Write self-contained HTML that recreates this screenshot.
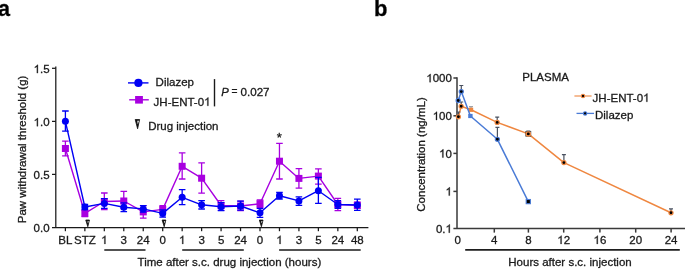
<!DOCTYPE html>
<html><head><meta charset="utf-8"><style>
html,body{margin:0;padding:0;background:#fff;}
svg{display:block;font-family:"Liberation Sans", sans-serif;will-change:transform;}
text{stroke:#1a1a1a;stroke-width:0.3px;}
.o{fill:none;stroke:none;}
</style></head><body>
<svg width="685" height="269" viewBox="0 0 685 269">
<rect width="685" height="269" fill="#fff"/>
<text x="-2.1" y="15.6" font-size="21.6" font-weight="bold">a</text>
<text x="373.9" y="15.6" font-size="22" font-weight="bold">b</text>
<g stroke="#1a1a1a" stroke-width="1.25" fill="none">
<path d="M55.8 66.5V227.5M52 227.5H368.4"/>
<path d="M52 68.3H55.8"/>
<path d="M52 121.4H55.8"/>
<path d="M52 174.4H55.8"/>
<path d="M65.40 227.5V231.2"/>
<path d="M84.86 227.5V231.2"/>
<path d="M104.32 227.5V231.2"/>
<path d="M123.78 227.5V231.2"/>
<path d="M143.24 227.5V231.2"/>
<path d="M162.70 227.5V231.2"/>
<path d="M182.16 227.5V231.2"/>
<path d="M201.62 227.5V231.2"/>
<path d="M221.08 227.5V231.2"/>
<path d="M240.54 227.5V231.2"/>
<path d="M260.00 227.5V231.2"/>
<path d="M279.46 227.5V231.2"/>
<path d="M298.92 227.5V231.2"/>
<path d="M318.38 227.5V231.2"/>
<path d="M337.84 227.5V231.2"/>
<path d="M357.30 227.5V231.2"/>
</g>
<g font-size="11.5" fill="#1a1a1a" text-anchor="end">
<text x="49.6" y="73.1"><tspan class="o">1</tspan>.5</text>
<text x="49.6" y="126.2"><tspan class="o">1</tspan>.0</text>
<text x="49.6" y="179.3">0.5</text>
<text x="49.6" y="232.4">0.0</text>
</g>
<g font-size="11.5" fill="#1a1a1a" text-anchor="middle">
<text x="65.40" y="243.9">BL</text>
<text x="84.86" y="243.9">STZ</text>
<text x="104.32" y="243.9"><tspan class="o">1</tspan></text>
<text x="123.78" y="243.9">3</text>
<text x="143.24" y="243.9">24</text>
<text x="162.70" y="243.9">0</text>
<text x="182.16" y="243.9"><tspan class="o">1</tspan></text>
<text x="201.62" y="243.9">3</text>
<text x="221.08" y="243.9">5</text>
<text x="240.54" y="243.9">24</text>
<text x="260.00" y="243.9">0</text>
<text x="279.46" y="243.9"><tspan class="o">1</tspan></text>
<text x="298.92" y="243.9">3</text>
<text x="318.38" y="243.9">5</text>
<text x="337.84" y="243.9">24</text>
<text x="357.30" y="243.9">48</text>
<text x="229.4" y="266.4">Time after s.c. drug injection (hours)</text>
<text transform="translate(25.6 149.4) rotate(-90)">Paw withdrawal threshold (g)</text>
</g>
<g stroke="#1a1a1a" stroke-width="1.5"><path d="M104.3 250H145.5M182.2 250H243.8M279.1 250H360.7"/></g>
<path d="M85.75 220.00H89.45L87.80 226.70Z" fill="#111" stroke="#111" stroke-width="0.8" stroke-linejoin="round"/><path d="M87.50 221.20H88.90L87.90 223.35Z" fill="#fff"/>
<path d="M162.15 220.00H165.85L164.20 226.70Z" fill="#111" stroke="#111" stroke-width="0.8" stroke-linejoin="round"/><path d="M163.90 221.20H165.30L164.30 223.35Z" fill="#fff"/>
<path d="M259.35 220.00H263.05L261.40 226.70Z" fill="#111" stroke="#111" stroke-width="0.8" stroke-linejoin="round"/><path d="M261.10 221.20H262.50L261.50 223.35Z" fill="#fff"/>
<polyline points="65.40,148.5 84.86,213.3 104.32,201.5 123.78,201 143.24,211.9 162.70,209.4 182.16,166.3 201.62,178.2 221.08,205.5 240.54,206 260.00,203.8 279.46,161.2 298.92,178.4 318.38,176.1 337.84,204.5 357.30,205.3" fill="none" stroke="#a800e0" stroke-width="1.4" stroke-linejoin="round"/>
<g stroke="#a800e0" stroke-width="1.3" fill="none">
<path d="M65.40 141.2V155.9M62.10 141.2H68.70M62.10 155.9H68.70"/>
<path d="M84.86 210V216.6M81.56 210H88.16M81.56 216.6H88.16"/>
<path d="M104.32 193V209.7M101.02 193H107.62M101.02 209.7H107.62"/>
<path d="M123.78 191.3V208.7M120.48 191.3H127.08M120.48 208.7H127.08"/>
<path d="M143.24 205.6V218.2M139.94 205.6H146.54M139.94 218.2H146.54"/>
<path d="M162.70 205.6V213.2M159.40 205.6H166.00M159.40 213.2H166.00"/>
<path d="M182.16 152.8V179M178.86 152.8H185.46M178.86 179H185.46"/>
<path d="M201.62 162.8V193.2M198.32 162.8H204.92M198.32 193.2H204.92"/>
<path d="M221.08 200.6V210.4M217.78 200.6H224.38M217.78 210.4H224.38"/>
<path d="M240.54 201.2V210.6M237.24 201.2H243.84M237.24 210.6H243.84"/>
<path d="M260.00 200.0V207.6M256.70 200.0H263.30M256.70 207.6H263.30"/>
<path d="M279.46 143.3V179M276.16 143.3H282.76M276.16 179H282.76"/>
<path d="M298.92 168.6V188.2M295.62 168.6H302.22M295.62 188.2H302.22"/>
<path d="M318.38 168.8V184.2M315.08 168.8H321.68M315.08 184.2H321.68"/>
<path d="M337.84 198.4V210.6M334.54 198.4H341.14M334.54 210.6H341.14"/>
<path d="M357.30 202.2V208.4M354.00 202.2H360.60M354.00 208.4H360.60"/>
</g>
<g fill="#a800e0">
<rect x="61.90" y="145.00" width="7" height="7"/>
<rect x="81.36" y="209.80" width="7" height="7"/>
<rect x="100.82" y="198.00" width="7" height="7"/>
<rect x="120.28" y="197.50" width="7" height="7"/>
<rect x="139.74" y="208.40" width="7" height="7"/>
<rect x="159.20" y="205.90" width="7" height="7"/>
<rect x="178.66" y="162.80" width="7" height="7"/>
<rect x="198.12" y="174.70" width="7" height="7"/>
<rect x="217.58" y="202.00" width="7" height="7"/>
<rect x="237.04" y="202.50" width="7" height="7"/>
<rect x="256.50" y="200.30" width="7" height="7"/>
<rect x="275.96" y="157.70" width="7" height="7"/>
<rect x="295.42" y="174.90" width="7" height="7"/>
<rect x="314.88" y="172.60" width="7" height="7"/>
<rect x="334.34" y="201.00" width="7" height="7"/>
<rect x="353.80" y="201.80" width="7" height="7"/>
</g>
<polyline points="65.40,121.3 84.86,207 104.32,203.4 123.78,207.2 143.24,208.9 162.70,213.4 182.16,197.3 201.62,204.8 221.08,206.7 240.54,206 260.00,212.8 279.46,195.8 298.92,200.9 318.38,190.7 337.84,204.5 357.30,205" fill="none" stroke="#0000f4" stroke-width="1.4" stroke-linejoin="round"/>
<g stroke="#0000f4" stroke-width="1.3" fill="none">
<path d="M65.40 111V131.1M62.10 111H68.70M62.10 131.1H68.70"/>
<path d="M84.86 204.5V209.5M81.56 204.5H88.16M81.56 209.5H88.16"/>
<path d="M104.32 198.6V208.4M101.02 198.6H107.62M101.02 208.4H107.62"/>
<path d="M123.78 202.8V211.6M120.48 202.8H127.08M120.48 211.6H127.08"/>
<path d="M143.24 205.6V212.2M139.94 205.6H146.54M139.94 212.2H146.54"/>
<path d="M162.70 209.8V217.1M159.40 209.8H166.00M159.40 217.1H166.00"/>
<path d="M182.16 189.7V204.7M178.86 189.7H185.46M178.86 204.7H185.46"/>
<path d="M201.62 200.6V209M198.32 200.6H204.92M198.32 209H204.92"/>
<path d="M221.08 202.7V210.6M217.78 202.7H224.38M217.78 210.6H224.38"/>
<path d="M240.54 201.2V210.1M237.24 201.2H243.84M237.24 210.1H243.84"/>
<path d="M260.00 208.3V217.3M256.70 208.3H263.30M256.70 217.3H263.30"/>
<path d="M279.46 192.5V199M276.16 192.5H282.76M276.16 199H282.76"/>
<path d="M298.92 196.8V205.4M295.62 196.8H302.22M295.62 205.4H302.22"/>
<path d="M318.38 177.4V203.4M315.08 177.4H321.68M315.08 203.4H321.68"/>
<path d="M337.84 200.6V208.4M334.54 200.6H341.14M334.54 208.4H341.14"/>
<path d="M357.30 199.1V210.3M354.00 199.1H360.60M354.00 210.3H360.60"/>
</g>
<g fill="#0000f4">
<circle cx="65.40" cy="121.3" r="3.5"/>
<circle cx="84.86" cy="207" r="3.5"/>
<circle cx="104.32" cy="203.4" r="3.5"/>
<circle cx="123.78" cy="207.2" r="3.5"/>
<circle cx="143.24" cy="208.9" r="3.5"/>
<circle cx="162.70" cy="213.4" r="3.5"/>
<circle cx="182.16" cy="197.3" r="3.5"/>
<circle cx="201.62" cy="204.8" r="3.5"/>
<circle cx="221.08" cy="206.7" r="3.5"/>
<circle cx="240.54" cy="206" r="3.5"/>
<circle cx="260.00" cy="212.8" r="3.5"/>
<circle cx="279.46" cy="195.8" r="3.5"/>
<circle cx="298.92" cy="200.9" r="3.5"/>
<circle cx="318.38" cy="190.7" r="3.5"/>
<circle cx="337.84" cy="204.5" r="3.5"/>
<circle cx="357.30" cy="205" r="3.5"/>
</g>
<text x="279.4" y="142.0" font-size="13" text-anchor="middle" fill="#111">*</text>
<path d="M128 82.9H148.5" stroke="#0000f4" stroke-width="1.4"/><circle cx="138.4" cy="82.9" r="4.1" fill="#0000f4"/>
<path d="M129.2 99.8H148.8" stroke="#a800e0" stroke-width="1.4"/><rect x="135.1" y="96" width="7.8" height="7.6" fill="#a800e0"/>
<g font-size="11.5" fill="#1a1a1a"><text x="155.6" y="86.3">Dilazep</text><text x="153.6" y="105.8">JH-ENT-0<tspan class="o">1</tspan></text>
<text x="221.2" y="95.7" font-size="11.3"><tspan font-style="italic">P</tspan><tspan dx="-0.2" dy="-0.4" font-size="10.2"> =</tspan><tspan dx="0" dy="0.4" font-size="11.6"> 0.027</tspan></text>
<text x="148.2" y="130.1">Drug injection</text></g>
<path d="M214.5 79.1V106.4" stroke="#1a1a1a" stroke-width="1.4"/>
<path d="M135.20 119.50H139.60L137.60 128.80Z" fill="#111" stroke="#111" stroke-width="0.8" stroke-linejoin="round"/><path d="M137.30 120.70H139.05L137.70 124.15Z" fill="#fff"/>
<g stroke="#3a3a3a" stroke-width="1.5" fill="none">
<path d="M457 77.2V228.5M453.4 228.5H685"/>
<path d="M453.4 78H457"/>
<path d="M453.4 115.8H457"/>
<path d="M453.4 153.4H457"/>
<path d="M453.4 191.4H457"/>
<path d="M494.3 228.5V232.6"/>
<path d="M528.4 228.5V232.6"/>
<path d="M563.7 228.5V232.6"/>
<path d="M599.9 228.5V232.6"/>
<path d="M635.7 228.5V232.6"/>
<path d="M671.1 228.5V232.6"/>
</g>
<g font-size="11.5" fill="#1a1a1a" text-anchor="end">
<text x="451.9" y="82.2"><tspan class="o">1</tspan>000</text>
<text x="451.9" y="120.0"><tspan class="o">1</tspan>00</text>
<text x="451.9" y="157.6"><tspan class="o">1</tspan>0</text>
<text x="451.9" y="195.6"><tspan class="o">1</tspan></text>
<text x="451.9" y="232.7">0.<tspan class="o">1</tspan></text>
</g>
<g font-size="11.5" fill="#1a1a1a" text-anchor="middle">
<text x="457.6" y="243.9">0</text>
<text x="494.3" y="243.9">4</text>
<text x="528.4" y="243.9">8</text>
<text x="563.7" y="243.9"><tspan class="o">1</tspan>2</text>
<text x="599.9" y="243.9"><tspan class="o">1</tspan>6</text>
<text x="635.7" y="243.9">20</text>
<text x="671.1" y="243.9">24</text>
<text x="570" y="266.3">Hours after s.c. injection</text>
<text transform="translate(425.2 154.5) rotate(-90)">Concentration (ng/mL)</text>
<text x="545.6" y="80.6">PLASMA</text>
</g>
<path d="M465.2 249.9H679.8" stroke="#1e1e1e" stroke-width="1.6"/>
<polyline points="458.4,116.8 461.2,106.3 471.0,109.8 497.2,122.4 528.3,133.9 563.9,162.6 671.0,212.8" fill="none" stroke="#ef8740" stroke-width="1.5" stroke-linejoin="round"/>
<path d="M458.4 116.8V112.0M456.4 112.0H460.4" stroke="#4a5260" stroke-width="1.2"/>
<path d="M461.2 106.3V102.0M459.2 102.0H463.2" stroke="#4a5260" stroke-width="1.2"/>
<path d="M471.0 109.8V106.6M469.0 106.6H473.0" stroke="#a0a4aa" stroke-width="1.2"/>
<path d="M497.2 122.4V117.2M495.2 117.2H499.2" stroke="#4a5260" stroke-width="1.2"/>
<path d="M528.3 133.9V131.2M526.3 131.2H530.3" stroke="#4a5260" stroke-width="1.2"/>
<path d="M563.9 162.6V154.7M561.9 154.7H565.9" stroke="#4a5260" stroke-width="1.2"/>
<path d="M671.0 212.8V208.8M669.0 208.8H673.0" stroke="#4a5260" stroke-width="1.2"/>
<circle cx="458.4" cy="116.8" r="2.05" fill="#000" stroke="#ef8740" stroke-width="1.2"/>
<circle cx="461.2" cy="106.3" r="2.05" fill="#000" stroke="#ef8740" stroke-width="1.2"/>
<rect x="468.8" y="107.7" width="4.4" height="4.2" fill="#ef8740"/>
<circle cx="497.2" cy="122.4" r="2.05" fill="#000" stroke="#ef8740" stroke-width="1.2"/>
<rect x="525.6999999999999" y="131.3" width="5.2" height="5.2" fill="none" stroke="#333" stroke-width="0.6"/>
<circle cx="528.3" cy="133.9" r="2.1" fill="#000" stroke="#ef8740" stroke-width="1.3"/>
<circle cx="563.9" cy="162.6" r="2.05" fill="#000" stroke="#ef8740" stroke-width="1.2"/>
<circle cx="671.0" cy="212.8" r="2.05" fill="#000" stroke="#ef8740" stroke-width="1.2"/>
<polyline points="458.2,100.5 461.3,91.6 470.4,116.0 497.4,139.3 528.3,201.6" fill="none" stroke="#4a7bd6" stroke-width="1.5" stroke-linejoin="round"/>
<path d="M461.3 91.6V85.5M459.3 85.5H463.3" stroke="#4a5260" stroke-width="1.2"/>
<path d="M497.4 139.3V127.4M495.4 127.4H499.4" stroke="#4a5260" stroke-width="1.2"/>
<circle cx="458.2" cy="100.5" r="2.05" fill="#000" stroke="#4a7bd6" stroke-width="1.2"/>
<circle cx="461.3" cy="91.6" r="2.05" fill="#000" stroke="#4a7bd6" stroke-width="1.2"/>
<rect x="468.2" y="113.9" width="4.4" height="4.2" fill="#4a7bd6"/>
<circle cx="497.4" cy="139.3" r="2.05" fill="#000" stroke="#4a7bd6" stroke-width="1.2"/>
<rect x="526.1999999999999" y="199.5" width="4.2" height="4.2" fill="#000" stroke="#4a7bd6" stroke-width="1.1"/>
<path d="M574.4 96H591.6" stroke="#ef8740" stroke-width="1.3" opacity="0.85"/><circle cx="583" cy="96" r="1.7" fill="#000" stroke="#ef8740" stroke-width="1.1"/>
<path d="M576.5 113.4H594" stroke="#4a7bd6" stroke-width="1.3"/><circle cx="585.1" cy="113.4" r="1.7" fill="#000" stroke="#4a7bd6" stroke-width="1.1"/>
<g font-size="11.5" fill="#1a1a1a"><text x="592.6" y="101.8">JH-ENT-0<tspan class="o">1</tspan></text><text x="595.0" y="119.0">Dilazep</text></g>
<g fill="#1a1a1a" stroke="#1a1a1a"><path d="M763 0H583V1147C520 1087 420 1020 223 930V1104C380 1175 560 1300 649 1466H763Z" transform="translate(33.60 73.10) scale(0.00562 -0.00562)" stroke-width="53.4"/><path d="M763 0H583V1147C520 1087 420 1020 223 930V1104C380 1175 560 1300 649 1466H763Z" transform="translate(33.60 126.20) scale(0.00562 -0.00562)" stroke-width="53.4"/><path d="M763 0H583V1147C520 1087 420 1020 223 930V1104C380 1175 560 1300 649 1466H763Z" transform="translate(101.12 243.90) scale(0.00562 -0.00562)" stroke-width="53.4"/><path d="M763 0H583V1147C520 1087 420 1020 223 930V1104C380 1175 560 1300 649 1466H763Z" transform="translate(178.96 243.90) scale(0.00562 -0.00562)" stroke-width="53.4"/><path d="M763 0H583V1147C520 1087 420 1020 223 930V1104C380 1175 560 1300 649 1466H763Z" transform="translate(276.26 243.90) scale(0.00562 -0.00562)" stroke-width="53.4"/><path d="M763 0H583V1147C520 1087 420 1020 223 930V1104C380 1175 560 1300 649 1466H763Z" transform="translate(204.08 105.80) scale(0.00562 -0.00562)" stroke-width="53.4"/><path d="M763 0H583V1147C520 1087 420 1020 223 930V1104C380 1175 560 1300 649 1466H763Z" transform="translate(426.31 82.20) scale(0.00562 -0.00562)" stroke-width="53.4"/><path d="M763 0H583V1147C520 1087 420 1020 223 930V1104C380 1175 560 1300 649 1466H763Z" transform="translate(432.70 120.00) scale(0.00562 -0.00562)" stroke-width="53.4"/><path d="M763 0H583V1147C520 1087 420 1020 223 930V1104C380 1175 560 1300 649 1466H763Z" transform="translate(439.09 157.60) scale(0.00562 -0.00562)" stroke-width="53.4"/><path d="M763 0H583V1147C520 1087 420 1020 223 930V1104C380 1175 560 1300 649 1466H763Z" transform="translate(445.49 195.60) scale(0.00562 -0.00562)" stroke-width="53.4"/><path d="M763 0H583V1147C520 1087 420 1020 223 930V1104C380 1175 560 1300 649 1466H763Z" transform="translate(445.49 232.70) scale(0.00562 -0.00562)" stroke-width="53.4"/><path d="M763 0H583V1147C520 1087 420 1020 223 930V1104C380 1175 560 1300 649 1466H763Z" transform="translate(557.29 243.90) scale(0.00562 -0.00562)" stroke-width="53.4"/><path d="M763 0H583V1147C520 1087 420 1020 223 930V1104C380 1175 560 1300 649 1466H763Z" transform="translate(593.49 243.90) scale(0.00562 -0.00562)" stroke-width="53.4"/><path d="M763 0H583V1147C520 1087 420 1020 223 930V1104C380 1175 560 1300 649 1466H763Z" transform="translate(643.08 101.80) scale(0.00562 -0.00562)" stroke-width="53.4"/></g>
</svg>
</body></html>
